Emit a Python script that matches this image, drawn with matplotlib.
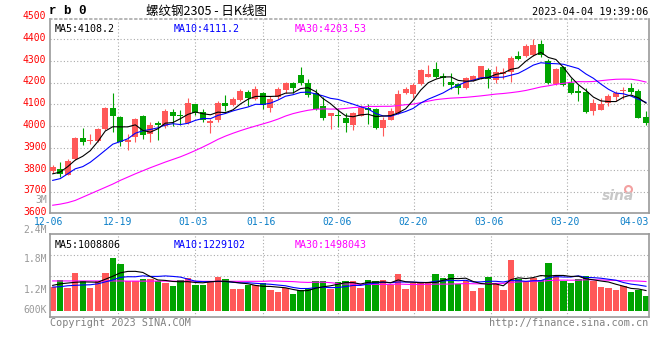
import matplotlib
matplotlib.use("Agg")
import matplotlib.pyplot as plt
import numpy as np
import pandas as pd

# ---------------- data ----------------
date_labels = ["12-06", "12-19", "01-03", "01-16", "02-06", "02-20", "03-06", "03-20", "04-03"]
price_ticks = [3600, 3700, 3800, 3900, 4000, 4100, 4200, 4300, 4400, 4500]
vol_tick_labels = ["600K", "1.2M", "1.8M", "2.4M", "3M"]

open_ = [3797, 3806, 3778, 3850, 3948, 3932, 3931, 3988, 4086, 4043,
         3927, 3951, 4049, 3963, 4015, 4000, 4065, 4054, 4015, 4100,
         4065, 4017, 4028, 4105, 4099, 4120, 4157, 4126, 4151, 4085,
         4135, 4166, 4197, 4234, 4200, 4151, 4092, 4046, 4052, 4038,
         4006, 4049, 4085, 4077, 3991, 4031, 4059, 4151, 4146, 4192,
         4226, 4262, 4231, 4203, 4192, 4175, 4210, 4221, 4259, 4213,
         4241, 4247, 4324, 4324, 4327, 4379, 4298, 4195, 4270, 4198,
         4163, 4158, 4068, 4076, 4106, 4134, 4161, 4177, 4164, 4042]
high = [3823, 3835, 3851, 3951, 3992, 3966, 3992, 4088, 4152, 4046,
        3966, 4040, 4050, 4019, 4023, 4080, 4077, 4074, 4129, 4104,
        4080, 4034, 4114, 4142, 4135, 4172, 4166, 4185, 4157, 4138,
        4182, 4203, 4203, 4274, 4218, 4172, 4135, 4062, 4085, 4059,
        4065, 4099, 4100, 4085, 4043, 4085, 4166, 4182, 4200, 4262,
        4280, 4295, 4243, 4243, 4197, 4226, 4236, 4278, 4267, 4275,
        4267, 4324, 4345, 4379, 4400, 4394, 4308, 4267, 4275, 4221,
        4190, 4175, 4125, 4128, 4148, 4164, 4180, 4198, 4170, 4068]
low = [3788, 3768, 3776, 3846, 3912, 3920, 3929, 3985, 3972, 3911,
       3892, 3926, 3942, 3929, 3939, 3992, 4003, 4008, 4012, 4054,
       4019, 3970, 4021, 4069, 4092, 4117, 4092, 4120, 4077, 4065,
       4126, 4154, 4154, 4188, 4135, 4074, 4028, 3988, 3997, 3975,
       3982, 4046, 4012, 3988, 3957, 4028, 4057, 4146, 4129, 4188,
       4224, 4222, 4185, 4172, 4149, 4169, 4206, 4216, 4175, 4198,
       4216, 4201, 4302, 4317, 4324, 4317, 4195, 4190, 4186, 4149,
       4118, 4060, 4053, 4073, 4091, 4118, 4125, 4149, 4036, 4007]
close_ = [3812, 3780, 3843, 3948, 3930, 3939, 3988, 4086, 4046, 3928,
          3939, 4034, 3958, 4006, 4006, 4068, 4047, 4047, 4105, 4062,
          4027, 4023, 4108, 4093, 4126, 4162, 4131, 4172, 4096, 4123,
          4169, 4200, 4176, 4197, 4142, 4080, 4040, 4059, 4046, 4015,
          4059, 4083, 4074, 3991, 4028, 4068, 4146, 4169, 4188, 4258,
          4238, 4225, 4222, 4190, 4177, 4220, 4229, 4275, 4216, 4250,
          4250, 4314, 4308, 4370, 4374, 4328, 4198, 4262, 4190, 4152,
          4152, 4066, 4109, 4103, 4137, 4152, 4167, 4158, 4039, 4014]
# volume in millions
volume_m = [1.215, 1.597, 1.18, 1.96, 1.545, 1.18, 1.545, 1.96, 2.74, 2.43,
            1.56, 1.56, 1.67, 1.67, 1.545, 1.44, 1.285, 1.597, 1.70, 1.32,
            1.354, 1.56, 1.75, 1.65, 1.13, 1.13, 1.354, 1.32, 1.42, 1.09,
            0.955, 1.18, 0.885, 1.076, 1.146, 1.56, 1.56, 1.146, 1.49, 1.56,
            1.56, 1.18, 1.60, 1.545, 1.60, 1.354, 1.91, 1.13, 1.44, 1.44,
            1.44, 1.91, 1.70, 1.91, 1.39, 1.56, 1.04, 1.18, 1.75, 1.44,
            1.076, 2.64, 1.65, 1.56, 1.70, 1.61, 2.50, 1.81, 1.56, 1.44,
            1.67, 1.81, 1.56, 1.25, 1.18, 1.09, 1.30, 0.99, 1.09, 0.78]

# moving-average values at the start of the window (earlier days are off-chart)
ma5_head = [3782, 3790, 3815, 3845]
ma10_head = [3752, 3760, 3782, 3805, 3815, 3835, 3862, 3890, 3918]
ma30_head = [3638, 3643, 3650, 3660, 3675, 3690, 3705, 3720, 3735, 3752,
             3767, 3782, 3796, 3810, 3823, 3836, 3848, 3860, 3874, 3889,
             3905, 3922, 3940, 3955, 3968, 3980, 3991, 4001, 4011]
vma5_head = [1.32, 1.40, 1.44, 1.48]
vma10_head = [1.23, 1.25, 1.30, 1.32, 1.34, 1.35, 1.40, 1.50, 1.60]
vma30_head = [1.55, 1.55, 1.55, 1.55, 1.55, 1.55, 1.55, 1.55, 1.55, 1.55,
              1.54, 1.54, 1.54, 1.54, 1.54, 1.54, 1.54, 1.54, 1.54, 1.54,
              1.53, 1.53, 1.53, 1.53, 1.53, 1.53, 1.53, 1.53, 1.53]


def moving_average(values, n, head):
    m = pd.Series(values, dtype=float).rolling(n).mean().to_numpy()
    m[:n - 1] = head
    return m


# ---------------- layout ----------------
W, H = 660, 360
fig = plt.figure(figsize=(W / 100, H / 100), dpi=100)
fig.patch.set_facecolor("white")


def px_axes(l, t, r, b):
    return fig.add_axes([l / W, 1 - b / H, (r - l) / W, (b - t) / H])


ax = px_axes(50, 19, 649, 213.3)
axv = px_axes(50, 234, 649, 317.3)

RED = "#ff5858"
GREEN = "#00a300"
GRID = "#aaaaaa"
BORDER = "#999999"
MONO = "DejaVu Sans Mono"
LW = 0.8

n = len(close_)
x = np.arange(n)
o = np.array(open_, float)
c = np.array(close_, float)
hi = np.array(high, float)
lo = np.array(low, float)
vol = np.array(volume_m, float)
up = c >= o
cols = np.where(up, RED, GREEN)

grid_x = [8.69, 18.95, 27.96, 38.03, 48.15, 58.32, 68.44]
label_x = [-0.49, 8.63, 18.68, 27.74, 37.86, 47.97, 58.1, 68.2, 77.4]

for a in (ax, axv):
    a.set_xlim(-0.36, 79.4)
    a.set_xticks([])
    a.set_yticks([])
    a.set_facecolor("white")
    for s in a.spines.values():
        s.set_color(BORDER)
        s.set_linewidth(1.2)
    for gx in grid_x:
        a.axvline(gx, color=GRID, lw=0.8, ls=(0, (1, 2)), zorder=0)

ax.spines["top"].set_linestyle((0, (1, 2)))
ax.spines["top"].set_color(GRID)

# ---- price panel ----
ax.set_ylim(3601, 4492)
for v in price_ticks[1:-1]:
    ax.axhline(v, color=GRID, lw=0.8, ls=(0, (1, 2)), zorder=0)

ax.vlines(x, lo, hi, colors=cols, lw=LW, zorder=2)
body_bottom = np.minimum(o, c)
body_h = np.maximum(np.abs(c - o), 3)
ax.bar(x, body_h, bottom=body_bottom, width=0.8, color=cols, lw=0, zorder=3)

ma5 = moving_average(close_, 5, ma5_head)
ma10 = moving_average(close_, 10, ma10_head)
ma30 = moving_average(close_, 30, ma30_head)
ax.plot(x, ma30, color="#ff00ff", lw=LW, zorder=4)
ax.plot(x, ma10, color="#0000ff", lw=LW, zorder=4)
ax.plot(x, ma5, color="black", lw=LW, zorder=5)

ytr = ax.get_yaxis_transform()
for v in price_ticks:
    ax.text(-0.006, v + 6, str(v), transform=ytr, ha="right", va="center",
            color="#ff0000", fontsize=7, family=MONO, clip_on=False)

xtr = ax.get_xaxis_transform()
for lx, lab in zip(label_x, date_labels):
    ax.text(lx, -0.043, lab, transform=xtr, ha="center", va="center",
            color="#0a7ec8", fontsize=7, family=MONO, clip_on=False)

ax.text(0.008, 0.975, "MA5:4108.2", transform=ax.transAxes, ha="left", va="top",
        color="black", fontsize=7.2, family=MONO)
ax.text(0.207, 0.975, "MA10:4111.2", transform=ax.transAxes, ha="left", va="top",
        color="#0000ff", fontsize=7.2, family=MONO)
ax.text(0.409, 0.975, "MA30:4203.53", transform=ax.transAxes, ha="left", va="top",
        color="#ff00ff", fontsize=7.2, family=MONO)

# sina watermark
ax.text(0.975, 0.055, "sina", transform=ax.transAxes, ha="right", va="bottom",
        color="#c8c8c8", fontsize=10, fontweight="bold", style="italic",
        family="DejaVu Sans")
ax.plot([0.965], [0.125], transform=ax.transAxes, marker="o", ms=5,
        mfc="none", mec="#f3a0a0", mew=1.5, clip_on=False)

# ---- volume panel ----
axv.set_ylim(-0.344, 3.995)
for v in (1.823, 2.885):
    axv.axhline(v, color=GRID, lw=0.8, ls=(0, (1, 2)), zorder=0)
axv.bar(x, vol, width=0.86, color=cols, lw=0, zorder=2)

vma5 = moving_average(volume_m, 5, vma5_head)
vma10 = moving_average(volume_m, 10, vma10_head)
vma30 = moving_average(volume_m, 30, vma30_head)
axv.plot(x, vma30, color="#ff00ff", lw=LW, zorder=3)
axv.plot(x, vma10, color="#0000ff", lw=LW, zorder=3)
axv.plot(x, vma5, color="black", lw=LW, zorder=4)

axv.text(0.008, 0.93, "MA5:1008806", transform=axv.transAxes, ha="left", va="top",
         color="black", fontsize=7.2, family=MONO)
axv.text(0.207, 0.93, "MA10:1229102", transform=axv.transAxes, ha="left", va="top",
         color="#0000ff", fontsize=7.2, family=MONO)
axv.text(0.409, 0.93, "MA30:1498043", transform=axv.transAxes, ha="left", va="top",
         color="#ff00ff", fontsize=7.2, family=MONO)

vol_label_py = [310.3, 290.0, 259.5, 230.5, 200.0]
for lab, py in zip(vol_tick_labels, vol_label_py):
    fig.text(47 / W, 1 - py / H, lab, ha="right", va="center", color="#999999",
             fontsize=7, family=MONO)

# ---- header / footer ----
fig.text(49 / W, 1 - 11.5 / H, "r b 0", ha="left", va="center", color="black",
         fontsize=9, fontweight="bold", family="Liberation Mono")
fig.text(206 / W, 1 - 11 / H, "螺纹钢2305 - 日K线图", ha="center", va="center",
         color="black", fontsize=9, family=["Noto Sans CJK SC", "DejaVu Sans"])
fig.text(648 / W, 1 - 12 / H, "2023-04-04 19:39:06", ha="right", va="center",
         color="black", fontsize=7.3, family=MONO)
fig.text(50 / W, 1 - 323.5 / H, "Copyright 2023 SINA.COM", ha="left", va="center",
         color="#808080", fontsize=7.3, family=MONO)
fig.text(648 / W, 1 - 323.5 / H, "http://finance.sina.com.cn", ha="right", va="center",
         color="#808080", fontsize=7.3, family=MONO)

fig.savefig("out.png", dpi=100, facecolor="white")
